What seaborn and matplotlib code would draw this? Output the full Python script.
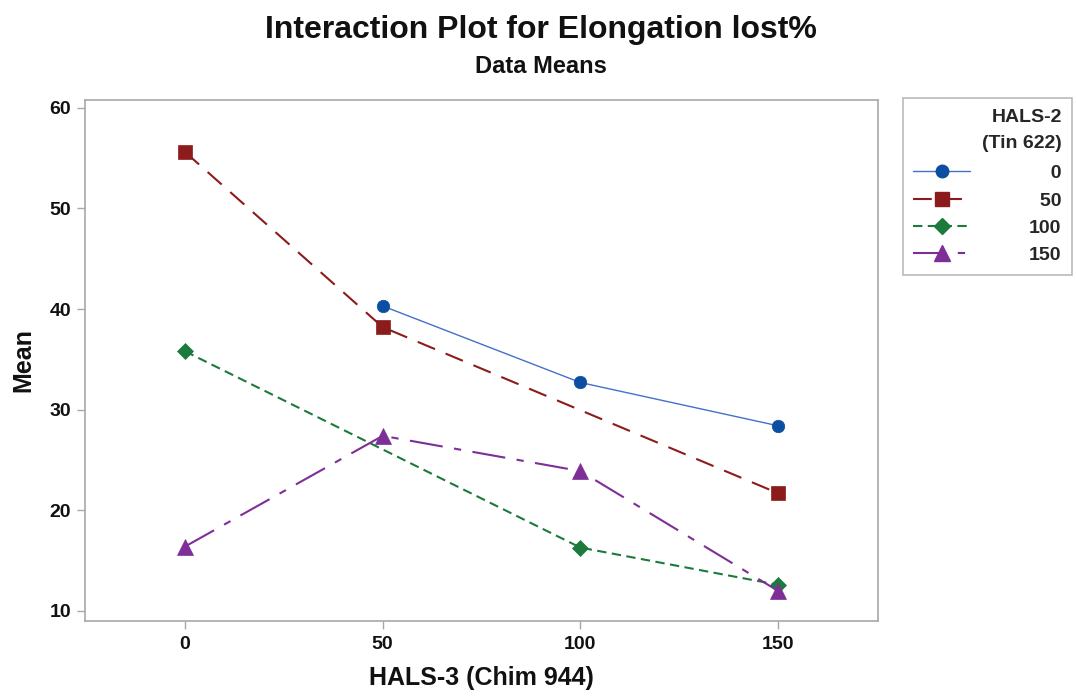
import numpy as np
import pandas as pd
import matplotlib
matplotlib.use("Agg")
import matplotlib.pyplot as plt
from matplotlib.lines import Line2D
import seaborn as sns

# Factor levels and cell means (NaN where a combination has no data)
hals3_levels = [0, 50, 100, 150]
hals2_levels = ["0", "50", "100", "150"]
mean_hals2_0 = [np.nan, 40.3, 32.7, 28.4]
mean_hals2_50 = [55.6, 38.2, np.nan, 21.7]
mean_hals2_100 = [35.8, np.nan, 16.3, 12.6]
mean_hals2_150 = [16.4, 27.4, 23.9, 12.0]
y_ticks = [10, 20, 30, 40, 50, 60]

series = [mean_hals2_0, mean_hals2_50, mean_hals2_100, mean_hals2_150]
df = pd.DataFrame({
    "HALS-3": np.tile(hals3_levels, len(hals2_levels)),
    "HALS-2": np.repeat(hals2_levels, len(hals3_levels)),
    "Mean": np.concatenate(series),
})

sns.set_theme(style="white")
plt.rcParams["font.family"] = ["Liberation Sans", "DejaVu Sans"]
plt.rcParams["font.weight"] = "bold"

colors = {"0": "#4570c8", "50": "#8c1c1c", "100": "#1b7a3c", "150": "#7d2f97"}
marker_colors = {"0": "#0b4ea2", "50": "#8c1c1c", "100": "#1b7a3c", "150": "#7d2f97"}
markers = {"0": "o", "50": "s", "100": "D", "150": "^"}
dashes = {"0": "", "50": (9, 5.5), "100": (4.5, 2.6), "150": (16, 5.5, 3.5, 5.5)}
widths = {"0": 1.0, "50": 1.5, "100": 1.5, "150": 1.5}
msizes = {"0": 9.0, "50": 9.5, "100": 8.5, "150": 11.0}

fig = plt.figure(figsize=(10.76, 6.97), dpi=100)
ax = fig.add_axes([0.079, 0.109, 0.737, 0.748])

for lvl in hals2_levels:
    sub = df[df["HALS-2"] == lvl].dropna()
    sns.lineplot(data=sub, x="HALS-3", y="Mean", ax=ax, color=colors[lvl],
                 linewidth=widths[lvl], legend=False, sort=True,
                 dashes=False, estimator=None)
    ln = ax.lines[-1]
    if dashes[lvl]:
        ln.set_dashes(dashes[lvl])
    ln.set_marker(markers[lvl])
    ln.set_markersize(msizes[lvl])
    ln.set_markerfacecolor(marker_colors[lvl])
    ln.set_markeredgecolor(marker_colors[lvl])
    ln.set_markeredgewidth(0.5)

ax.set_xlim(-25.3, 175.3)
ax.set_ylim(9.0, 60.8)
ax.set_xticks(hals3_levels)
ax.set_xticklabels([str(v) for v in hals3_levels])
ax.set_yticks(y_ticks)
ax.tick_params(axis="both", which="major", direction="out", length=6, width=1,
               color="#a8a8a8", labelsize=14, bottom=True, left=True)
ax.tick_params(axis="x", pad=5)
ax.tick_params(axis="y", pad=4)
for lab in ax.get_xticklabels() + ax.get_yticklabels():
    lab.set_fontweight("bold")
    lab.set_color("#111111")
for sp in ax.spines.values():
    sp.set_color("#a8a8a8")
    sp.set_linewidth(1.2)

ax.set_xlabel("HALS-3 (Chim 944)", fontsize=18, fontweight="bold", labelpad=9,
              color="#111111")
ax.set_ylabel("Mean", fontsize=18, fontweight="bold", labelpad=10, color="#111111")

fig.text(0.503, 0.957, "Interaction Plot for Elongation lost%", ha="center", va="center",
         fontsize=23, fontweight="bold", color="#111111")
fig.text(0.503, 0.905, "Data Means", ha="center", va="center",
         fontsize=17, fontweight="bold", color="#111111")

# Legend with right-aligned level labels
handles = []
for lvl, ln in zip(hals2_levels, ax.lines):
    h = Line2D([], [], color=ln.get_color(), linewidth=ln.get_linewidth(),
               marker=ln.get_marker(), markersize=ln.get_markersize(),
               markerfacecolor=ln.get_markerfacecolor(),
               markeredgecolor=ln.get_markeredgecolor())
    if dashes[lvl]:
        h.set_dashes(dashes[lvl])
    handles.append(h)
fs = "\u2007"
labels = [fs * (3 - len(l)) + l for l in hals2_levels]
leg = fig.legend(handles, labels, title="HALS-2\n(Tin 622)",
                 loc="upper left", bbox_to_anchor=(0.839, 0.859),
                 frameon=True, fancybox=False, fontsize=14,
                 title_fontsize=14, handlelength=2.9, handletextpad=3.05,
                 labelspacing=0.5, borderpad=0.55, borderaxespad=0)
leg.get_title().set_fontweight("bold")
leg.get_title().set_multialignment("right")
leg.get_title().set_linespacing(1.7)
leg._legend_box.align = "right"
leg._legend_box.sep = 9
for t in leg.get_texts():
    t.set_fontweight("bold")
fr = leg.get_frame()
fr.set_edgecolor("#a8a8a8")
fr.set_linewidth(1.2)

fig.savefig("out.png", dpi=100)
